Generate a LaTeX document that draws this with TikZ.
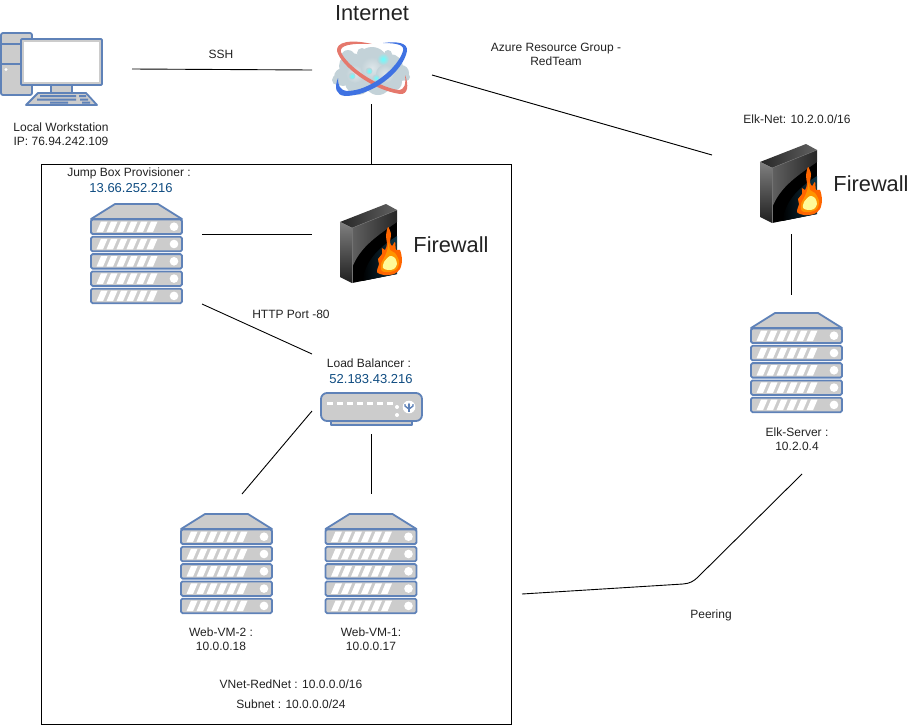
\documentclass[tikz,border=0pt]{standalone}
\usepackage{fontspec}
\setmainfont{Liberation Sans}
\usetikzlibrary{arrows.meta}

\definecolor{iconline}{HTML}{5F82B8}
\definecolor{iconfill}{HTML}{CCCCCC}
\definecolor{iptext}{HTML}{0F4C81}
\definecolor{txtgray}{HTML}{222222}
\definecolor{fwteal}{HTML}{0F3345}
\definecolor{cloudgray}{HTML}{C3D2D8}
\definecolor{orbitred}{HTML}{E5786C}
\definecolor{orbitblue}{HTML}{3F72E2}

\tikzset{
  lbl/.style={inner sep=0pt, text=txtgray, font=\fontsize{12}{14}\selectfont, align=center},
  iplbl/.style={inner sep=0pt, text=iptext, font=\fontsize{13}{15}\selectfont},
  biglbl/.style={inner sep=0pt, text=txtgray, font=\fontsize{21.8}{25}\selectfont},
  link/.style={draw=black, line width=0.9pt},
  icon/.style={draw=iconline, fill=iconfill, line width=1.8pt, line join=round},
  server/.pic={
    \path[icon] (24,0) -- (67,0) -- (91,15) -- (0,15) -- cycle;
    \foreach \r in {0,...,4} {
      \begin{scope}[yshift=-17.3*\r]
        \path[icon, rounded corners=1.5pt] (0,15.5) rectangle (91,30);
        \foreach \b in {0,...,5}
          \fill[white] (5.5+\b*10,28) -- (10+\b*10,17.5) -- (16.5+\b*10,17.5) -- (12+\b*10,28) -- cycle;
        \fill[white] (83,22.7) circle (4.3);
      \end{scope}
    }
  },
  firewall/.pic={
    \shade[left color=black!85, right color=black!62]
      (0,18) -- (46,0) -- (57,6) -- (12,24) -- cycle;
    \shade[top color=black!50, bottom color=black!88] (0,18) -- (12,24) -- (12,79) -- (0,73) -- cycle;
    \begin{scope}
      \clip (12,24) -- (57,6) -- (57,70) -- (12,79) -- cycle;
      \fill[black] (12,0) rectangle (57,80);
      \shade[left color=black!62, right color=black!85] (12,24) -- (57,6) -- (57,18)
        .. controls (40,30) and (20,42) .. (12,64) -- cycle;
      \shade[left color=black, right color=fwteal] (57,32) .. controls (38,44) and (24,58) .. (22,80) -- (57,80) -- cycle;
    \end{scope}
    \draw[black!50, line width=0.4pt] (0,18) -- (12,24) -- (57,6);
    \draw[black!55, line width=0.4pt] (12,24) -- (12,79);
    \fill[orange!80!red] plot[smooth cycle] coordinates {(48,23) (51,30) (50,38) (52,42) (55,38)
      (56,46) (60,46) (62,56) (60,65) (54,70) (44,71) (37,68) (39,60) (38,55) (42,50) (42,44)
      (45,46) (47,40) (46,32)};
    \fill[orange!85!yellow] plot[smooth cycle] coordinates {(49,38) (50,46) (55,49) (59,57) (57,65)
      (50,68) (42,67) (41,60) (45,52) (47,47)};
    \fill[yellow!40!white] plot[smooth cycle] coordinates {(50,52) (55,54) (57,60) (54,65) (48,66) (43,64) (44,58)};
  },
  workstation/.pic={
    \path[icon, rounded corners=2pt] (1,0) rectangle (32,62);
    \draw[iconline, line width=1.5pt] (1,11) -- (32,11) (1,31) -- (32,31);
    \fill[white] (6,36.5) circle (1.6);
    \path[icon] (51,50) rectangle (72,60);
    \path[icon] (26,72) -- (38,60) -- (86,60) -- (97,72) -- cycle;
    \fill[iconline] (40,62) rectangle (76,64) (79,62) rectangle (86,64)
      (37,65.5) rectangle (76,67.5) (80,65.5) rectangle (88,67.5)
      (50,68.5) rectangle (68,70.5) (82,68.5) rectangle (90,70.5);
    \path[icon, rounded corners=1pt] (21,6) rectangle (102,52);
    \fill[white] (24,9) rectangle (99,49);
  },
  balancer/.pic={
    \path[icon] (10,26) rectangle (91,32);
    \path[icon, rounded corners=6pt] (0,0) rectangle (101,28);
    \foreach \d in {0,...,6}
      \fill[white] (6+\d*10,9) rectangle (12+\d*10,12);
    \fill[white] (76,14) circle (2) (76,22) circle (2) (88,14) circle (6.3);
    \draw[iconline, line width=1.6pt, -{Stealth[length=3pt]}] (88,19) -- (88,9.5);
    \draw[iconline, line width=1.4pt] (88,16) -- (84,13) -- (84,11) (88,16) -- (92,13) -- (92,11);
  }
}

\begin{document}
\begin{tikzpicture}[x=1pt, y=-1pt]
  \useasboundingbox (0,0) rectangle (909,726);
  % subnet frame
  \draw[line width=1pt] (41.5,164) rectangle (511.5,724);
  % icons
  \pic at (0,33) {workstation};
  \pic at (91,204) {server};
  \pic at (751,313) {server};
  \pic at (181,514) {server};
  \pic at (325.5,514) {server};
  \pic at (340,204) {firewall};
  \pic at (760,144) {firewall};
  \pic at (321,393) {balancer};
  % internet cloud
  \foreach \cx/\cy/\cr in {343/77/9, 337/80/5, 352/66/13, 372/63/16, 390/67/13, 401/73/8, 406/77/4,
    358/82/13, 378/81/14, 393/82/9, 348/57/7, 362/53/5, 388/54/4}
    \fill[cloudgray] (\cx,\cy) circle (\cr);
  \foreach \cx/\cy/\cr in {355/74/9, 372/68/11, 385/74/9}
    \shade[inner color=cloudgray!55!white, outer color=cloudgray] (\cx,\cy) circle (\cr);
  \foreach \cx/\cy/\cr in {383/59/6, 369/71/3.5, 352/76/3.5, 376/78/3.5}
    \shade[inner color=cyan!60!white, outer color=cloudgray] (\cx,\cy) circle (\cr);
  \fill[orbitred] (372,44) .. controls (350,39) and (336,42) .. (337,51)
    .. controls (341,66) and (372,90) .. (400,94) .. controls (408,95) and (409,85) .. (405,75)
    .. controls (406,84) and (405,90) .. (398,90) .. controls (375,86) and (346,65) .. (341,52)
    .. controls (339,45) and (352,43) .. (372,44) -- cycle;
  \fill[orbitblue] (383,43) .. controls (398,41) and (408,43) .. (407,51)
    .. controls (403,72) and (372,96) .. (345,96) .. controls (336,95) and (334,88) .. (338,78)
    .. controls (338,86) and (340,90) .. (347,91) .. controls (370,91) and (398,68) .. (403,51)
    .. controls (405,45) and (397,43) .. (383,43) -- cycle;
  % labels
  \node[biglbl] (inet) at (372,13) {Internet};
  \node[biglbl] (fwlbl) at (451,245) {Firewall};
  \node[biglbl] (fwlblb) at (871,184) {Firewall};
  \node[lbl] (ssh) at (221,54) {SSH};
  \node[lbl] (azure) at (556,54) {Azure Resource Group -\\RedTeam};
  \node[lbl] (local) at (61,134.5) {Local Workstation\\IP: 76.94.242.109};
  \node[lbl] (elknet) at (797,119) {Elk-Net: 10.2.0.0/16};
  \node[lbl] (jump) at (129,173) {Jump Box Provisioner :};
  \node[iplbl] (jumpip) at (131,188) {13.66.252.216};
  \node[lbl] (http) at (291,314) {HTTP Port -80};
  \node[lbl] (lb) at (369,363) {Load Balancer :};
  \node[iplbl] (lbip) at (371,379) {52.183.43.216};
  \node[lbl] (elk) at (797,439) {Elk-Server :\\10.2.0.4};
  \node[lbl] (webb) at (221,639) {Web-VM-2 :\\10.0.0.18};
  \node[lbl] (weba) at (371,639) {Web-VM-1:\\10.0.0.17};
  \node[lbl] (vnet) at (291,684) {VNet-RedNet : 10.0.0.0/16};
  \node[lbl] (subnet) at (291,704) {Subnet : 10.0.0.0/24};
  \node[lbl] (peer) at (711,615) {Peering};
  % connector ends
  \coordinate (wsE) at (132,69);
  \coordinate (inetW) at (312,70);
  \coordinate (inetS) at (371.5,104);
  \coordinate (boxN) at (371.5,164);
  \coordinate (inetE) at (432,75);
  \coordinate (fwbW) at (712,155);
  \coordinate (jumpE) at (202,234);
  \coordinate (fwW) at (312,234);
  \coordinate (jumpS) at (202,304);
  \coordinate (lbN) at (312,354);
  \coordinate (lbW) at (312,411);
  \coordinate (webbN) at (242,494);
  \coordinate (lbS) at (371.5,434);
  \coordinate (webaN) at (371.5,494);
  \coordinate (fwbS) at (791.5,234);
  \coordinate (elkN) at (791.5,295);
  \coordinate (boxE) at (522,594);
  \coordinate (peerA) at (683,584);
  \coordinate (peerB) at (698,577);
  \coordinate (elkS) at (802,474);
  % connectors
  \draw[link] (wsE)--(inetW);
  \draw[link] (inetS)--(boxN);
  \draw[link] (inetE)--(fwbW);
  \draw[link] (jumpE)--(fwW);
  \draw[link] (jumpS)--(lbN);
  \draw[link] (lbW)--(webbN);
  \draw[link] (lbS)--(webaN);
  \draw[link] (fwbS)--(elkN);
  \draw[link] (boxE)--(peerA) .. controls (690,583.5) and (694,581) .. (peerB)--(elkS);
\end{tikzpicture}
\end{document}
